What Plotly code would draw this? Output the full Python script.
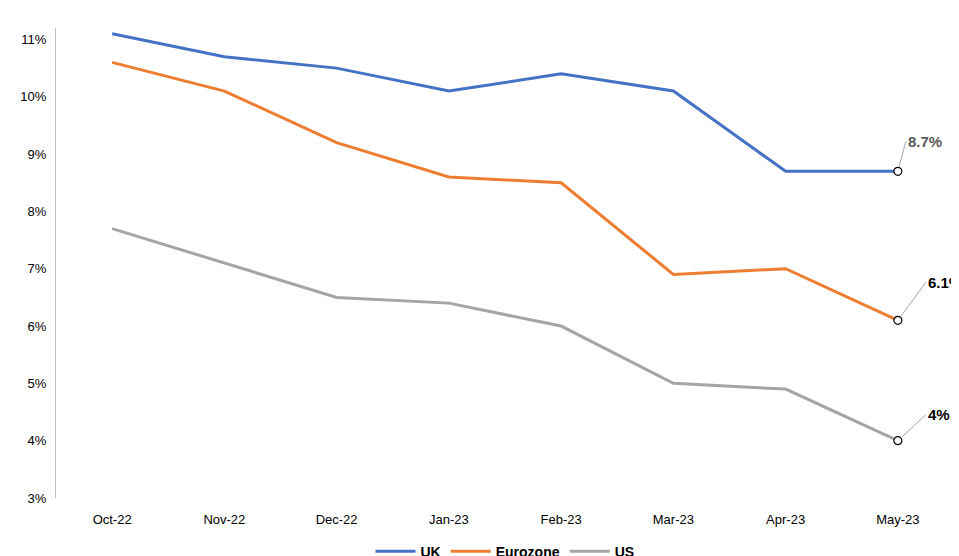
import plotly.graph_objects as go

months = ['Oct-22', 'Nov-22', 'Dec-22', 'Jan-23', 'Feb-23', 'Mar-23', 'Apr-23', 'May-23']
uk = [11.1, 10.7, 10.5, 10.1, 10.4, 10.1, 8.7, 8.7]
eurozone = [10.6, 10.1, 9.2, 8.6, 8.5, 6.9, 7.0, 6.1]
us = [7.7, 7.1, 6.5, 6.4, 6.0, 5.0, 4.9, 4.0]
end_labels = ['8.7%', '6.1%', '4%']

series = [('UK', uk, '#4472c4'), ('Eurozone', eurozone, '#ed7d31'), ('US', us, '#a5a5a5')]

fig = go.Figure()
for name, vals, col in series:
    fig.add_trace(go.Scatter(x=months, y=vals, name='<b>' + name + '</b>', mode='lines',
                             line=dict(color=col, width=3)))
    fig.add_trace(go.Scatter(x=[months[-1]], y=[vals[-1]], mode='markers', showlegend=False,
                             marker=dict(color='white', size=8, line=dict(color='black', width=1.2))))

styles = [('#595959', -10, -30), ('black', 10, -38), ('black', 10, -26)]
for (name, vals, col), lab, (tc, ax, ay) in zip(series, end_labels, styles):
    fig.add_annotation(x=months[-1], y=vals[-1], text='<b>' + lab + '</b>', showarrow=True,
                       arrowhead=0, arrowcolor='#a5a5a5', arrowwidth=1, ax=ax + 18, ay=ay,
                       xanchor='left', font=dict(size=15, color=tc), standoff=5)

fig.update_layout(
    width=959, height=556, plot_bgcolor='white', paper_bgcolor='white',
    margin=dict(l=48, r=13, t=20, b=66, autoexpand=False),
    font=dict(family='Liberation Sans, Arial', size=13, color='black'),
    xaxis=dict(range=[-0.5, 7.5], showgrid=False, showline=False, ticks='',
               tickfont=dict(size=13), ticklabelstandoff=12),
    yaxis=dict(range=[3, 11.2], dtick=1, ticksuffix='%', showgrid=False, showline=True,
               linecolor='#bfbfbf', linewidth=1, tickfont=dict(size=13), zeroline=False,
               ticklabelstandoff=6),
    legend=dict(orientation='h', x=0.5, xanchor='center', y=-0.08, yanchor='top',
                font=dict(size=14), itemwidth=40),
)
fig.write_html('out.html')
